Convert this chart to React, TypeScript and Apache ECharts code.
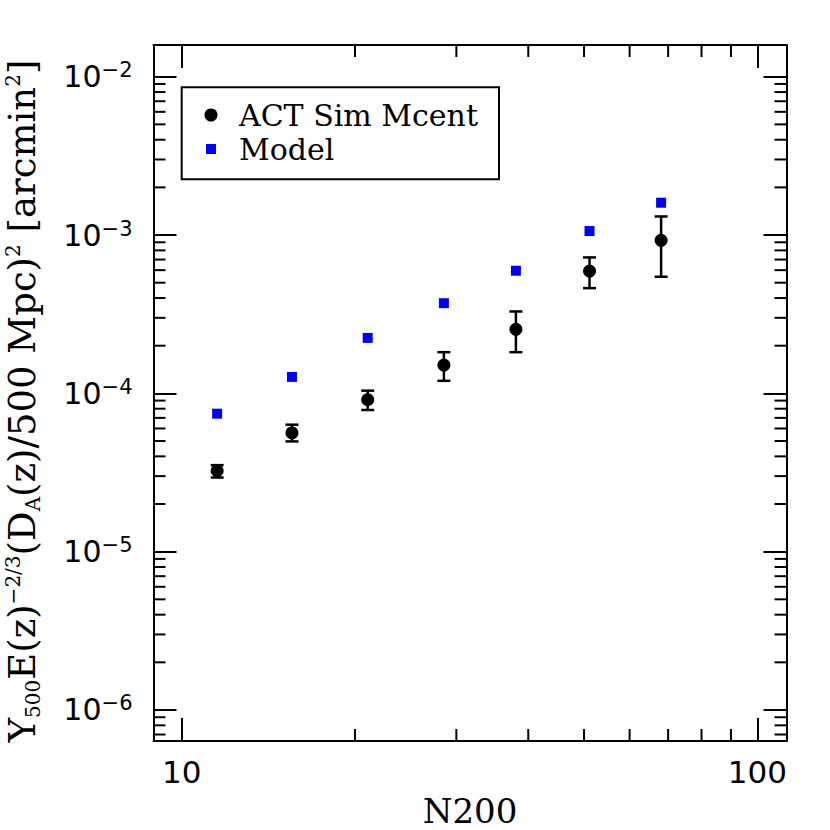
import React, { useEffect, useRef } from "react";
import * as echarts from "echarts";

// Axis ranges
const X_MIN = 8.93;
const X_MAX = 112.4;
const Y_MIN = 6.37e-7;
const Y_MAX = 0.01586;

// Data
const n200 = [11.52, 15.54, 21.04, 28.54, 38.07, 51.11, 68.06];
const modelY = [7.44e-5, 1.27e-4, 2.24e-4, 3.71e-4, 5.95e-4, 1.06e-3, 1.6e-3];
const simY = [3.24e-5, 5.62e-5, 9.12e-5, 1.51e-4, 2.54e-4, 5.92e-4, 9.26e-4];
const simLow = [2.94e-5, 4.97e-5, 7.85e-5, 1.2e-4, 1.82e-4, 4.62e-4, 5.45e-4];
const simHigh = [3.52e-5, 6.34e-5, 1.04e-4, 1.82e-4, 3.29e-4, 7.22e-4, 1.31e-3];

const seriesNames = ["ACT Sim Mcent", "Model"];
const xTitle = "N200";

// Minor tick values
const xMinorTicks = [20, 30, 40, 50, 60, 70, 80, 90];
const yMinorMultipliers = [2, 3, 4, 5, 6, 7, 8, 9];
const yDecades = [-7, -6, -5, -4, -3, -2];

const SERIF = "'DejaVu Serif', 'Liberation Serif', serif";
const SANS = "'DejaVu Sans', 'Liberation Sans', sans-serif";

function isPow10(v: number) {
  const l = Math.log10(v);
  return Math.abs(l - Math.round(l)) < 1e-6;
}

export default function App() {
  const ref = useRef<HTMLDivElement>(null);
  useEffect(() => {
    if (!ref.current) return;
    const chart = echarts.init(ref.current, null, { renderer: "svg" });

    const yMinor: number[] = [];
    yDecades.forEach((d) =>
      yMinorMultipliers.forEach((m) => {
        const v = m * Math.pow(10, d);
        if (v > Y_MIN && v < Y_MAX) yMinor.push(v);
      })
    );

    const axisCommon = {
      type: "log" as const,
      logBase: 10,
      splitLine: { show: false },
      axisLine: { show: true, lineStyle: { color: "#000", width: 2 } },
      axisTick: { show: true, inside: true, length: 23, lineStyle: { color: "#000", width: 2 } },
    };

    const option: any = {
      animation: false,
      backgroundColor: "#fff",
      grid: {
        left: 153.5,
        right: 43.5,
        top: 45,
        bottom: 89,
        containLabel: false,
        outerBoundsMode: "none",
      },
      xAxis: [
        {
          ...axisCommon,
          position: "bottom",
          min: X_MIN,
          max: X_MAX,
          name: xTitle,
          nameLocation: "middle",
          nameGap: 55,
          nameTextStyle: { fontFamily: SERIF, fontSize: 34, lineHeight: 30, color: "#000" },
          axisLabel: {
            margin: 15,
            fontFamily: SANS,
            fontSize: 31,
            color: "#000",
            formatter: (v: number) => (isPow10(v) ? String(Math.round(v)) : ""),
          },
        },
        {
          ...axisCommon,
          position: "top",
          min: X_MIN,
          max: X_MAX,
          axisLabel: { show: false },
        },
      ],
      yAxis: [
        {
          ...axisCommon,
          position: "left",
          min: Y_MIN,
          max: Y_MAX,
          name:
            "{n|Y}{sub|500}{n|E(z)}{sup|−2/3}{n|(D}{sub|A}{n|(z)/500 Mpc)}{sup|2}{n| [arcmin}{sup|2}{n|]}",
          nameLocation: "middle",
          nameRotate: 90,
          nameGap: 111,
          nameTextStyle: {
            color: "#000",
            fontFamily: SERIF,
            fontSize: 37,
            padding: [0, 16, 0, 0],
            rich: {
              n: { fontFamily: SERIF, fontSize: 37, lineHeight: 40, color: "#000" },
              sub: { fontFamily: SERIF, fontSize: 20, lineHeight: 24, verticalAlign: "bottom", color: "#000" },
              sup: { fontFamily: SERIF, fontSize: 20, lineHeight: 20, verticalAlign: "top", color: "#000" },
            },
          },
          axisLabel: {
            margin: 21,
            color: "#000",
            formatter: (v: number) => {
              if (!isPow10(v)) return "";
              const e = Math.round(Math.log10(v));
              return `{b|10}{s|${e < 0 ? "−" : ""}${Math.abs(e)}}`;
            },
            rich: {
              b: { fontFamily: SANS, fontSize: 30, lineHeight: 34, color: "#000" },
              s: { fontFamily: SANS, fontSize: 21, lineHeight: 20, verticalAlign: "top", color: "#000" },
            },
          },
        },
        {
          ...axisCommon,
          position: "right",
          min: Y_MIN,
          max: Y_MAX,
          axisLabel: { show: false },
        },
      ],
      series: [
        {
          type: "custom",
          name: "xMinor",
          silent: true,
          clip: false,
          xAxisIndex: 0,
          yAxisIndex: 0,
          data: xMinorTicks.map((v) => [v, Y_MIN]),
          renderItem: (params: any, api: any) => {
            const v = api.value(0);
            const b = api.coord([v, Y_MIN]);
            const t = api.coord([v, Y_MAX]);
            const ls = { stroke: "#000", lineWidth: 2 };
            return {
              type: "group",
              children: [
                { type: "line", shape: { x1: b[0], y1: b[1], x2: b[0], y2: b[1] - 12 }, style: ls },
                { type: "line", shape: { x1: t[0], y1: t[1], x2: t[0], y2: t[1] + 12 }, style: ls },
              ],
            };
          },
        },
        {
          type: "custom",
          name: "yMinor",
          silent: true,
          clip: false,
          xAxisIndex: 0,
          yAxisIndex: 0,
          data: yMinor.map((v) => [X_MIN, v]),
          renderItem: (params: any, api: any) => {
            const v = api.value(1);
            const l = api.coord([X_MIN, v]);
            const r = api.coord([X_MAX, v]);
            const ls = { stroke: "#000", lineWidth: 2 };
            return {
              type: "group",
              children: [
                { type: "line", shape: { x1: l[0], y1: l[1], x2: l[0] + 12, y2: l[1] }, style: ls },
                { type: "line", shape: { x1: r[0], y1: r[1], x2: r[0] - 12, y2: r[1] }, style: ls },
              ],
            };
          },
        },
        {
          type: "custom",
          name: "errors",
          silent: true,
          xAxisIndex: 0,
          yAxisIndex: 0,
          data: n200.map((x, i) => [x, simLow[i], simHigh[i]]),
          encode: { x: 0, y: [1, 2] },
          renderItem: (params: any, api: any) => {
            const x = api.value(0);
            const lo = api.coord([x, api.value(1)]);
            const hi = api.coord([x, api.value(2)]);
            const ls = { stroke: "#000", lineWidth: 2.5 };
            const w = 6.5;
            return {
              type: "group",
              children: [
                { type: "line", shape: { x1: lo[0], y1: lo[1], x2: hi[0], y2: hi[1] }, style: ls },
                { type: "line", shape: { x1: lo[0] - w, y1: lo[1], x2: lo[0] + w, y2: lo[1] }, style: ls },
                { type: "line", shape: { x1: hi[0] - w, y1: hi[1], x2: hi[0] + w, y2: hi[1] }, style: ls },
              ],
            };
          },
        },
        {
          type: "scatter",
          name: seriesNames[0],
          symbol: "circle",
          symbolSize: 13,
          itemStyle: { color: "#000", opacity: 1 },
          data: n200.map((x, i) => [x, simY[i]]),
          z: 5,
        },
        {
          type: "scatter",
          name: seriesNames[1],
          symbol: "rect",
          symbolSize: 10,
          itemStyle: { color: "#0000ff", opacity: 1 },
          data: n200.map((x, i) => [x, modelY[i]]),
          z: 5,
        },
      ],
      graphic: [
        {
          type: "group",
          z: 100,
          children: [
            {
              type: "rect",
              shape: { x: 181.7, y: 87.3, width: 317.3, height: 92 },
              style: { fill: "#fff", stroke: "#000", lineWidth: 2 },
            },
            {
              type: "circle",
              shape: { cx: 211, cy: 115, r: 6.5 },
              style: { fill: "#000" },
            },
            {
              type: "rect",
              shape: { x: 206, y: 144, width: 10, height: 10 },
              style: { fill: "#0000ff" },
            },
            {
              type: "text",
              x: 239,
              y: 115,
              style: {
                text: seriesNames[0],
                fontFamily: SERIF,
                fontSize: 30,
                fill: "#000",
                verticalAlign: "middle",
                textVerticalAlign: "middle",
              },
            },
            {
              type: "text",
              x: 239,
              y: 149,
              style: {
                text: seriesNames[1],
                fontFamily: SERIF,
                fontSize: 30,
                fill: "#000",
                verticalAlign: "middle",
                textVerticalAlign: "middle",
              },
            },
          ],
        },
      ],
    };

    chart.setOption(option);
    return () => chart.dispose();
  }, []);

  return (
    <div
      ref={ref}
      style={{ position: "absolute", left: 0, top: 0, width: 830, height: 830, background: "#fff" }}
    />
  );
}
